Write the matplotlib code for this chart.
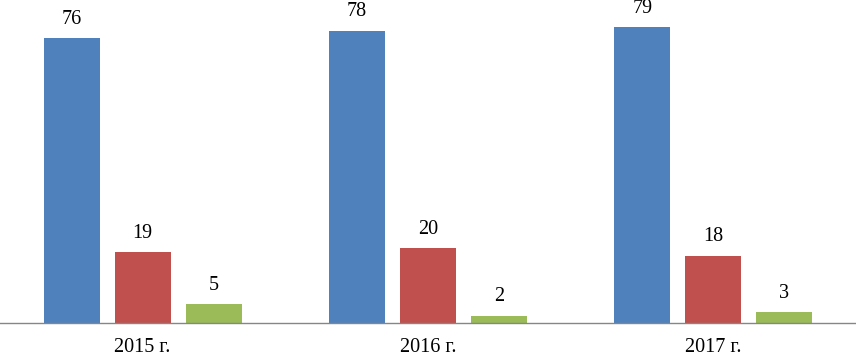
import matplotlib
matplotlib.use("Agg")
import matplotlib.pyplot as plt
import numpy as np

categories = ["2015 г.", "2016 г.", "2017 г."]
series_a = [76, 78, 79]
series_b = [19, 20, 18]
series_c = [5, 2, 3]
colors = ["#4F81BD", "#C0504D", "#9BBB59"]

plt.rcParams['font.family'] = ['Liberation Serif', 'DejaVu Serif']

fig = plt.figure(figsize=(8.56, 3.56), dpi=100)
ax = fig.add_axes([0, 33/356, 1, 323/356])

x = np.arange(len(categories))
off = 0.249
w = 0.196
for i, (vals, c) in enumerate(zip([series_a, series_b, series_c], colors)):
    bars = ax.bar(x + (i - 1) * off, vals, width=w, color=c)
    for b, v in zip(bars, vals):
        ax.text(b.get_x() + b.get_width() / 2, v + 5.0, str(v),
                ha='center', va='center', fontsize=14.5, clip_on=False)

ax.set_xlim(-0.5, 2.5)
ax.set_ylim(0, 86.2)
ax.set_xticks(x)
ax.set_xticklabels(categories, fontsize=14.5)
ax.tick_params(axis='x', length=0, pad=10.5)
ax.set_yticks([])
for s in ['top', 'right', 'left']:
    ax.spines[s].set_visible(False)
ax.spines['bottom'].set_color('#868686')
ax.spines['bottom'].set_linewidth(1)

fig.savefig("out.png", dpi=100)
